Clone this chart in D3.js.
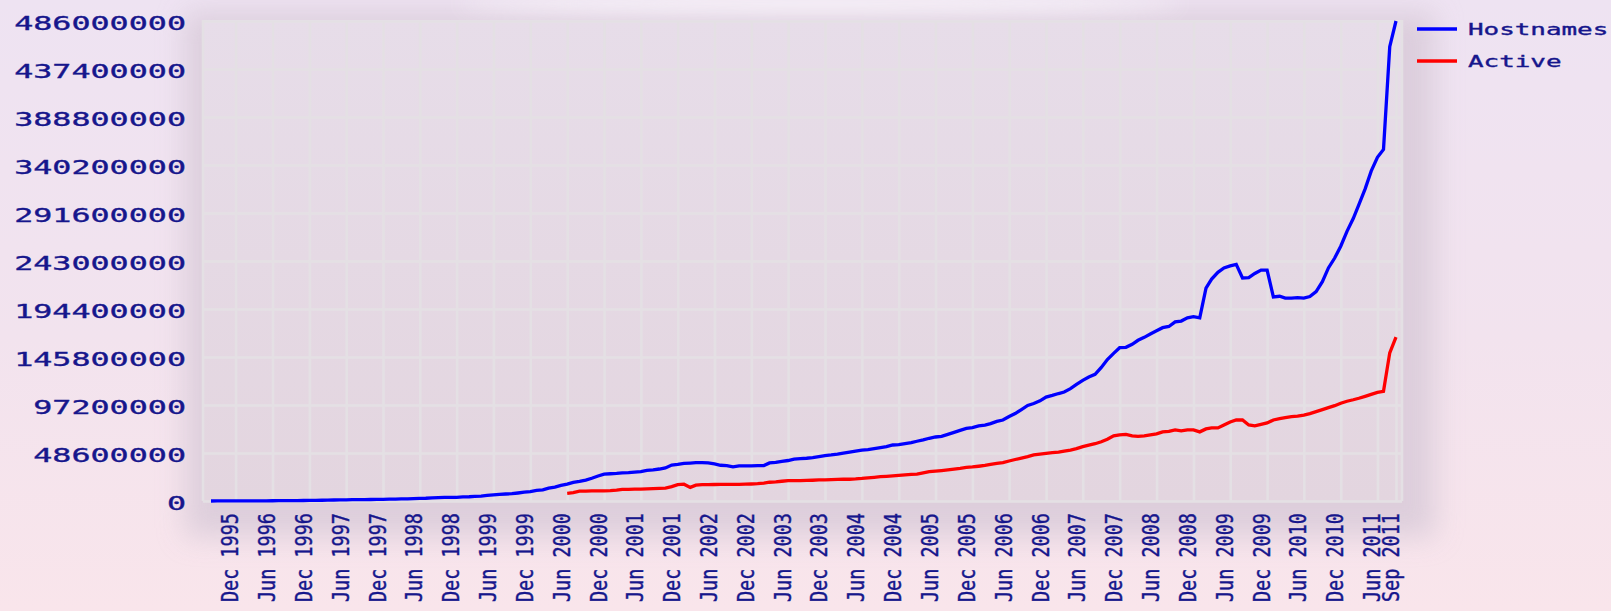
<!DOCTYPE html>
<html><head><meta charset="utf-8">
<script src="https://cdn.jsdelivr.net/npm/d3@7"></script>
<style>html,body{margin:0;padding:0;overflow:hidden;background:#f3e4ee}</style>
</head><body><svg id="c" width="1611" height="611"></svg>
<script>
// ---- DATA ----
const hostnamesStart = "Aug 1995";
const hostnames = [
 0.02,0.03,0.07,0.07,0.07,0.1,0.1,0.15,0.15,0.2,
 0.25,0.3,0.34,0.4,0.46,0.5,0.6,0.65,0.74,0.9,
 1.0,1.1,1.2,1.3,1.4,1.4,1.5,1.6,1.7,1.8,
 2.0,2.1,2.2,2.4,2.6,2.8,3.2,3.4,3.6,3.7,
 3.7,4.1,4.3,4.7,5.0,5.6,6.2,6.8,7.1,7.4,
 8.1,8.9,9.6,10.8,11.2,13.1,14.0,15.8,17.1,18.9,
 19.9,21.2,23.0,25.3,27.2,27.6,28.0,28.5,28.7,29.3,
 29.7,31.0,31.5,32.4,33.5,36.4,37.0,38.0,38.4,38.8,
 38.8,38.5,37.6,36.2,35.8,34.5,35.5,35.5,35.5,35.9,
 35.9,38.5,39.0,40.2,41.0,42.3,42.8,43.3,44.0,45.0,
 46.0,46.6,47.5,48.5,49.5,50.5,51.6,52.1,53.0,54.0,
 55.0,56.7,57.0,58.2,59.1,60.5,61.8,63.5,64.8,65.5,
 67.5,69.5,71.5,73.5,74.4,76.0,76.9,78.3,80.6,82.0,
 85.5,88.5,92.6,96.8,98.7,101.4,105.2,106.9,108.8,110.3,
 113.7,118.0,122.1,125.6,128.2,135.2,143.3,149.5,155.2,155.6,
 158.7,162.7,165.7,169.1,172.3,175.5,176.7,181.3,182.2,185.5,
 186.7,185.5,215.6,224.7,231.5,235.9,238.0,239.6,225.8,226.1,
 230.4,233.8,233.8,206.7,207.3,205.4,205.4,206.0,205.4,207.0,
 212.0,222.0,236.0,246.0,258.0,273.0,286.0,300.0,316.0,334.0,
 348.0,356.0,460.0,486.0
];
const activeStart = "Jun 2000";
const active = [
 7.8,8.5,10.0,10.0,10.2,10.3,10.3,10.5,11.0,11.8,
 11.8,12.0,12.0,12.3,12.5,12.8,13.0,14.5,16.5,17.0,
 13.8,16.0,16.5,16.6,16.7,16.8,16.8,16.9,16.9,17.0,
 17.2,17.5,18.0,19.0,19.4,20.0,20.6,20.6,20.6,20.8,
 21.0,21.3,21.4,21.6,21.8,22.0,22.0,22.3,22.8,23.5,
 24.0,24.6,25.0,25.5,26.0,26.5,27.0,27.2,28.5,29.7,
 30.2,30.8,31.5,32.3,33.0,34.0,34.5,35.2,36.0,37.0,
 38.0,38.8,40.5,42.0,43.5,45.0,46.6,47.5,48.3,49.0,
 49.5,50.5,51.6,53.0,55.0,56.5,58.0,60.0,62.5,66.0,
 67.0,67.5,66.0,65.5,66.0,67.0,68.0,70.0,70.5,72.0,
 71.0,72.0,72.0,70.0,73.0,74.0,74.0,77.0,80.0,82.0,
 82.0,77.0,76.0,77.5,79.0,82.0,83.5,84.5,85.5,86.0,
 87.0,88.5,90.5,92.5,94.5,96.5,99.0,101.0,102.5,104.0,
 106.0,108.0,110.0,111.0,150.0,166.0
];
const yTicks = [0,48600000,97200000,145800000,194400000,243000000,291600000,340200000,388800000,437400000,486000000];
const xTickLabels = ["Dec 1995","Jun 1996","Dec 1996","Jun 1997","Dec 1997","Jun 1998","Dec 1998","Jun 1999","Dec 1999",
 "Jun 2000","Dec 2000","Jun 2001","Dec 2001","Jun 2002","Dec 2002","Jun 2003","Dec 2003","Jun 2004","Dec 2004",
 "Jun 2005","Dec 2005","Jun 2006","Dec 2006","Jun 2007","Dec 2007","Jun 2008","Dec 2008","Jun 2009","Dec 2009",
 "Jun 2010","Dec 2010","Jun 2011","Sep 2011"];
const seriesNames = ["Hostnames","Active"];
const seriesColors = ["#0000ff","#ff0000"];

// ---- CHART ----
const parse = d3.utcParse("%b %Y");
const svg = d3.select("#c");
const defs = svg.append("defs");
const textColor = "#16168c";
const font = "'DejaVu Sans Mono', 'Liberation Mono', monospace";

const bg = defs.append("linearGradient").attr("id","bg").attr("x1",0).attr("y1",0).attr("x2",0).attr("y2",1);
bg.append("stop").attr("offset","0%").attr("stop-color","#eee3f2");
bg.append("stop").attr("offset","55%").attr("stop-color","#f2e3ee");
bg.append("stop").attr("offset","100%").attr("stop-color","#f9e5eb");
const pg = defs.append("linearGradient").attr("id","pg").attr("x1",0).attr("y1",0).attr("x2",0).attr("y2",1);
pg.append("stop").attr("offset","0%").attr("stop-color","#e7dde9");
pg.append("stop").attr("offset","100%").attr("stop-color","#e3d5df");
const f = defs.append("filter").attr("id","blur").attr("x","-20%").attr("y","-30%").attr("width","140%").attr("height","160%");
f.append("feGaussianBlur").attr("stdDeviation",14);
const f2 = defs.append("filter").attr("id","blur2").attr("x","-30%").attr("y","-200%").attr("width","160%").attr("height","500%");
f2.append("feGaussianBlur").attr("stdDeviation",10);

svg.append("rect").attr("width",1611).attr("height",611).attr("fill","url(#bg)");
svg.append("rect").attr("x",185).attr("y",12).attr("width",1250).attr("height",525)
  .attr("fill","#d9cbd9").attr("opacity",0.85).attr("filter","url(#blur)");
svg.append("ellipse").attr("cx",820).attr("cy",4).attr("rx",360).attr("ry",10)
  .attr("fill","#faf6fb").attr("opacity",0.8).attr("filter","url(#blur2)");

const pLeft = 203, pRight = 1402, pTop = 20, pBottom = 501;
svg.append("rect").attr("x",pLeft).attr("y",pTop).attr("width",pRight-pLeft).attr("height",pBottom-pTop).attr("fill","url(#pg)");

const x = d3.scaleUtc().domain([parse(hostnamesStart), parse("Sep 2011")]).range([211, 1396]);
const y = d3.scaleLinear().domain([0, 486000000]).range([501, 21]);
const gridColor = "#e4e0e4";

// horizontal grid
const gy = svg.append("g").attr("transform",`translate(${pLeft},0)`)
  .call(d3.axisLeft(y).tickValues(yTicks).tickSize(-(pRight-pLeft)).tickFormat(""));
gy.select(".domain").remove();
gy.selectAll(".tick line").attr("stroke",gridColor).attr("stroke-width",2.6);

// vertical grid + labels
const xTickDates = xTickLabels.map(parse);
const gx = svg.append("g").attr("transform","translate(0,21)")
  .call(d3.axisBottom(x).tickValues(xTickDates).tickSize(480).tickFormat((d,i)=>xTickLabels[i]));
gx.select(".domain").remove();
gx.selectAll(".tick line").attr("stroke",gridColor).attr("stroke-width",2.6);
gx.selectAll(".tick text")
  .attr("x",0).attr("y",0).attr("dy",null)
  .attr("transform","translate(2,492) scale(1.22,1) rotate(-90)")
  .attr("text-anchor","end")
  .attr("fill",textColor).attr("stroke",textColor).attr("stroke-width",0.35)
  .attr("font-family",font).attr("font-size",18.5);

// border lines
svg.append("line").attr("x1",pLeft).attr("x2",pLeft).attr("y1",pTop).attr("y2",pBottom).attr("stroke",gridColor).attr("stroke-width",2.6);
svg.append("line").attr("x1",pRight).attr("x2",pRight).attr("y1",pTop).attr("y2",pBottom).attr("stroke",gridColor).attr("stroke-width",2.6);

// y labels
const gyl = svg.append("g").call(d3.axisLeft(y).tickValues(yTicks).tickSize(0).tickFormat(d3.format("d")));
gyl.select(".domain").remove();
gyl.selectAll(".tick text")
  .attr("x",0).attr("dy","0.36em")
  .attr("transform","translate(186,1.5) scale(1.67,1)")
  .attr("text-anchor","end")
  .attr("fill",textColor).attr("stroke",textColor).attr("stroke-width",0.35)
  .attr("font-family",font).attr("font-size",19);

// lines
function monthSeries(start, vals){
  const s = parse(start);
  return vals.map((v,i)=>({d:d3.utcMonth.offset(s,i), v:v*1e6}));
}
const line = d3.line().x(d=>x(d.d)).y(d=>y(d.v)).curve(d3.curveLinear);
svg.append("path").datum(monthSeries(activeStart, active))
  .attr("d",line).attr("fill","none").attr("stroke",seriesColors[1]).attr("stroke-width",3.3)
  .attr("stroke-linejoin","miter");
svg.append("path").datum(monthSeries(hostnamesStart, hostnames))
  .attr("d",line).attr("fill","none").attr("stroke",seriesColors[0]).attr("stroke-width",3.3)
  .attr("stroke-linejoin","miter");

// legend
const lg = svg.append("g");
seriesNames.forEach((n,i)=>{
  const yy = 29 + i*32;
  lg.append("line").attr("x1",1417).attr("x2",1457).attr("y1",yy).attr("y2",yy)
    .attr("stroke",seriesColors[i]).attr("stroke-width",3.5);
  lg.append("text").attr("transform",`translate(1468,${yy}) scale(1.62,1)`)
    .attr("dy","0.36em").attr("fill",textColor).attr("stroke",textColor).attr("stroke-width",0.35)
    .attr("font-family",font).attr("font-size",16).text(n);
});
</script></body></html>
